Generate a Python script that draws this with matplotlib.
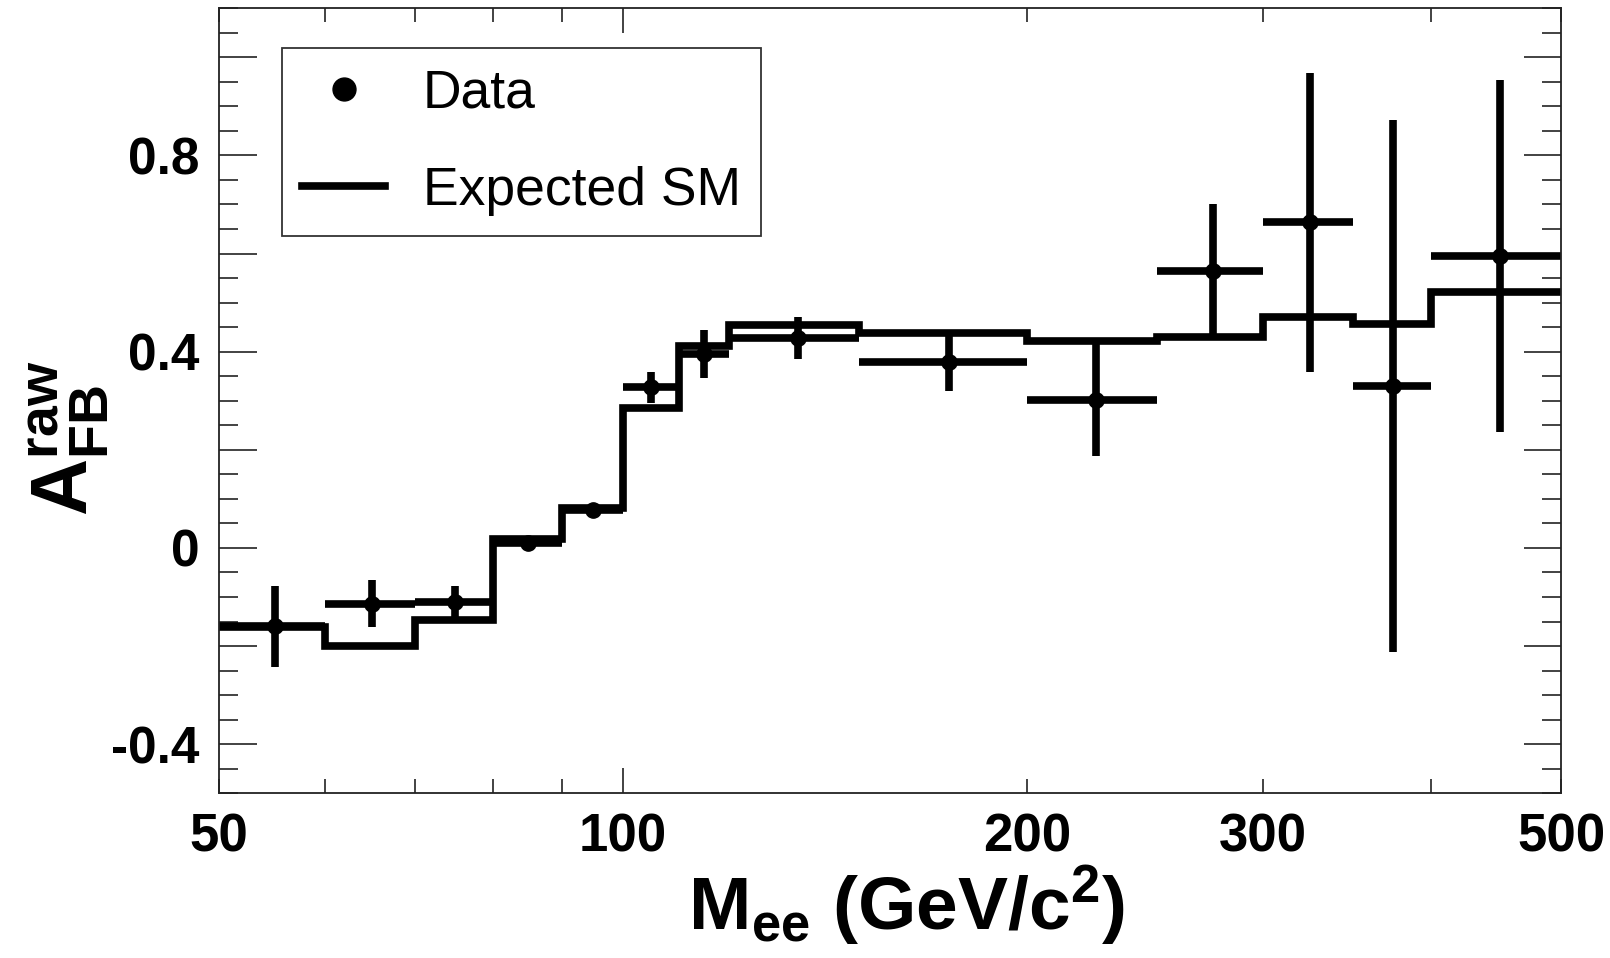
import numpy as np
import matplotlib
matplotlib.use("Agg")
import matplotlib.pyplot as plt
from matplotlib.ticker import FixedLocator, MultipleLocator, FuncFormatter

plt.rcParams['font.family'] = ['Liberation Sans', 'DejaVu Sans']
plt.rcParams['mathtext.fontset'] = 'custom'
plt.rcParams['mathtext.rm'] = 'Liberation Sans'
plt.rcParams['mathtext.bf'] = 'Liberation Sans:bold'
plt.rcParams['mathtext.it'] = 'Liberation Sans:italic'

# bin edges in M_ee (GeV/c^2)
edges = [50, 60, 70, 80, 90, 100, 110, 120, 150, 200, 250, 300, 350, 400, 500]
# measured raw A_FB and errors
data_afb = [-0.160, -0.114, -0.110, 0.011, 0.077, 0.327, 0.395, 0.428, 0.378,
            0.302, 0.564, 0.664, 0.330, 0.595]
data_err = [0.082, 0.048, 0.033, 0.008, 0.006, 0.032, 0.049, 0.042, 0.058,
            0.115, 0.136, 0.305, 0.543, 0.358]
# expected standard model
sm_afb = [-0.162, -0.199, -0.147, 0.018, 0.081, 0.286, 0.412, 0.455, 0.438,
          0.421, 0.430, 0.470, 0.456, 0.522]

x_labels = {50: "50", 100: "100", 200: "200", 300: "300", 500: "500"}
y_labels = [-0.4, 0, 0.4, 0.8]

edges = np.array(edges, dtype=float)
centers = 0.5 * (edges[:-1] + edges[1:])
xlo = centers - edges[:-1]
xhi = edges[1:] - centers

fig = plt.figure(figsize=(16.1, 9.58), dpi=100)
ax = fig.add_axes([0.136, 0.172, 0.8336, 0.8194])

st = ax.stairs(sm_afb, edges, color='black', linewidth=5.5, baseline=None)
eb = ax.errorbar(centers, data_afb, xerr=[xlo, xhi], yerr=data_err, fmt='o',
                 color='black', ms=11, elinewidth=5.5, capsize=0)

ax.set_xscale('log')
ax.set_xlim(50, 500)
ax.set_ylim(-0.5, 1.1)

# x ticks
ax.xaxis.set_major_locator(FixedLocator([100]))
ax.xaxis.set_minor_locator(FixedLocator([50, 60, 70, 80, 90, 200, 300, 400, 500]))
fmt = FuncFormatter(lambda v, p: x_labels.get(int(round(v)), ""))
ax.xaxis.set_major_formatter(fmt)
ax.xaxis.set_minor_formatter(fmt)

# y ticks
ax.yaxis.set_major_locator(MultipleLocator(0.2))
ax.yaxis.set_minor_locator(MultipleLocator(0.05))
ax.yaxis.set_major_formatter(FuncFormatter(
    lambda v, p: ("%g" % round(v, 1)) if any(abs(v - l) < 1e-6 for l in y_labels) else ""))

ax.tick_params(axis='both', which='both', direction='in', top=True, right=True,
               width=1.2, color='#222222')
ax.tick_params(axis='y', which='major', length=27, labelsize=37, pad=14)
ax.tick_params(axis='y', which='minor', length=14)
ax.tick_params(axis='x', which='major', length=18, labelsize=38, pad=14)
ax.tick_params(axis='x', which='minor', length=10, labelsize=38, pad=14)
for lab in ax.get_xticklabels(which='both') + ax.get_yticklabels():
    lab.set_fontweight('bold')

for s in ax.spines.values():
    s.set_linewidth(1.3)
    s.set_color('#222222')

ax.set_xlabel(r'$\mathbf{M}_{\mathbf{ee}}$ (GeV/c$^{\mathbf{2}}$)', fontsize=54,
              fontweight='bold', ha='center', va='center')
ax.xaxis.set_label_coords(0.512, -0.143)
ax.set_ylabel(r'$\mathbf{A}_{\mathbf{FB}}^{\mathbf{raw}}$', fontsize=57,
              ha='center', va='center')
ax.yaxis.set_label_coords(-0.112, 0.452)

leg = ax.legend([eb[0], st], ['Data', 'Expected SM'], loc='upper left',
                bbox_to_anchor=(0.047, 0.949),
                fontsize=38.5, frameon=True, fancybox=False, edgecolor='black',
                handlelength=1.55, handletextpad=0.7, borderpad=0.38,
                labelspacing=0.88, borderaxespad=0, markerscale=1.5)
leg.get_frame().set_linewidth(1.3)

fig.savefig('out.png', dpi=100)
